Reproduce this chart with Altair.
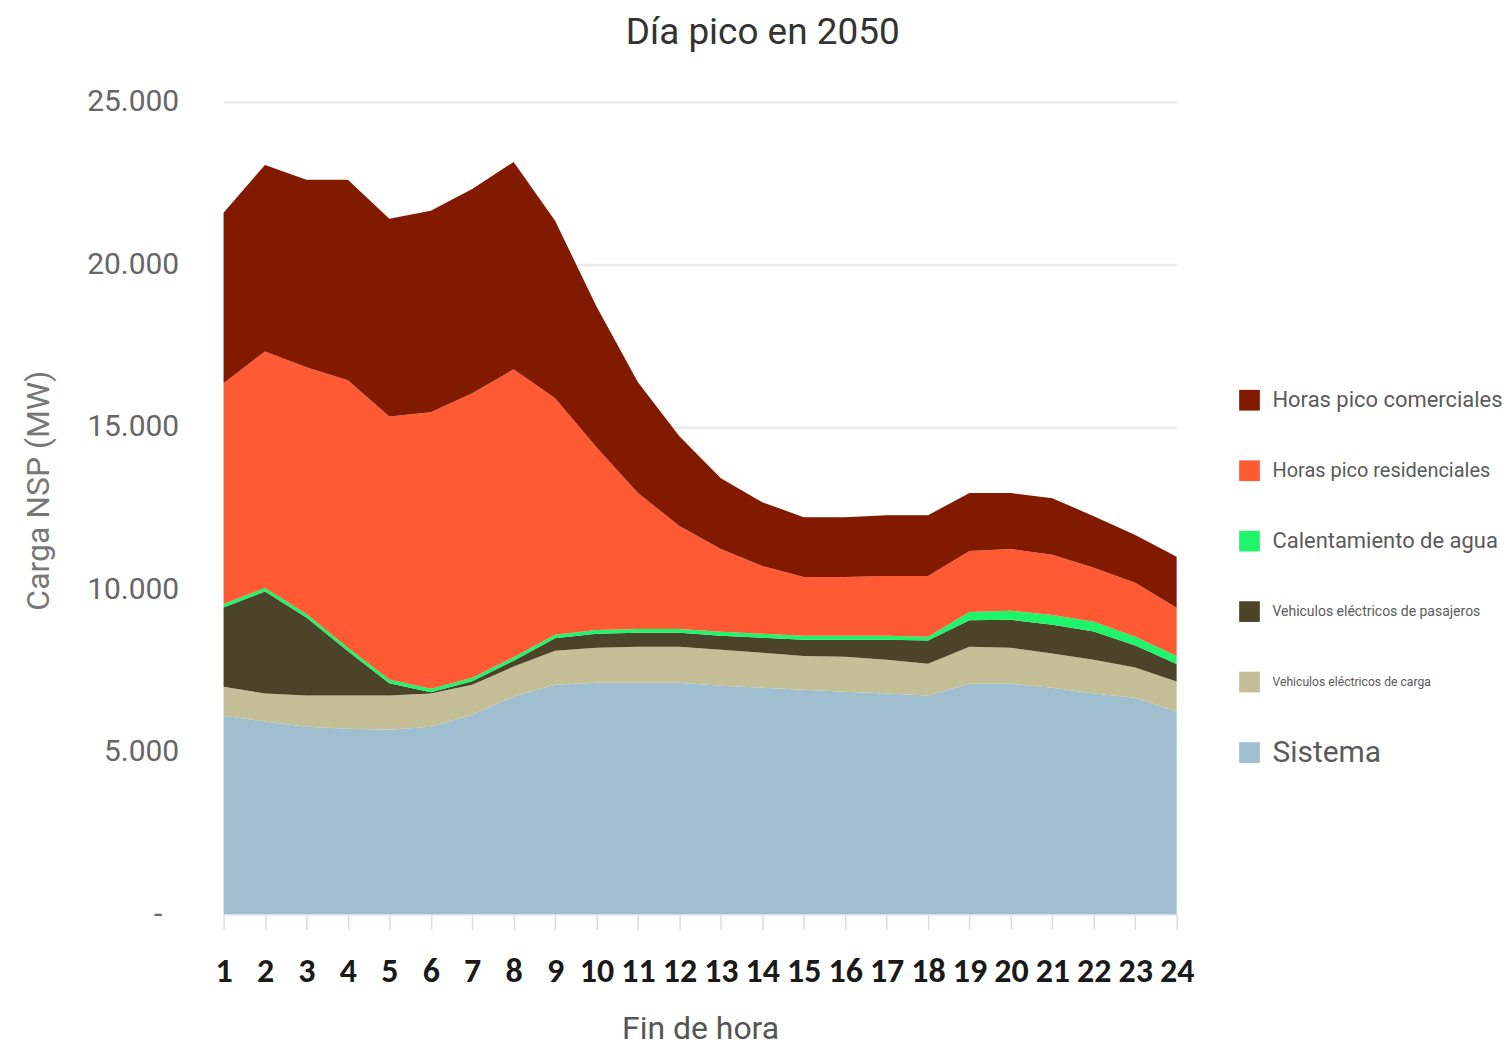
import altair as alt
import pandas as pd

horas = list(range(1, 25))

series = [
    "Sistema",
    "Vehiculos eléctricos de carga",
    "Vehiculos eléctricos de pasajeros",
    "Calentamiento de agua",
    "Horas pico residenciales",
    "Horas pico comerciales",
]

sistema = [6110, 5930, 5770, 5710, 5680, 5770, 6140, 6700, 7060, 7120, 7120, 7120,
           7030, 6970, 6910, 6850, 6790, 6730, 7090, 7090, 6970, 6790, 6660, 6230]
ev_carga = [890, 860, 960, 1020, 1050, 1020, 920, 920, 1050, 1080, 1110, 1110,
            1110, 1080, 1040, 1070, 1040, 980, 1140, 1110, 1050, 1040, 930, 930]
ev_pasajeros = [2440, 3140, 2400, 1360, 380, 40, 110, 180, 380, 430, 430, 430,
                430, 460, 500, 530, 620, 710, 820, 860, 890, 870, 680, 540]
agua = [110, 110, 110, 110, 110, 110, 110, 110, 110, 120, 120, 120,
        120, 120, 120, 120, 120, 120, 250, 280, 300, 300, 270, 250]
residencial = [6790, 7280, 7590, 8230, 8100, 8510, 8750, 8860, 7280, 5620, 4180, 3170,
               2550, 2090, 1810, 1810, 1840, 1870, 1880, 1900, 1850, 1660, 1660, 1480]
comercial = [5250, 5740, 5770, 6170, 6080, 6200, 6290, 6380, 5460, 4330, 3410, 2760,
             2180, 1960, 1840, 1840, 1870, 1870, 1780, 1720, 1740, 1590, 1470, 1570]

colores = ["#9fbfd0", "#c5bf98", "#4b4429", "#1ff56a", "#fe5b35", "#821a00"]

y_ticks = [0, 5000, 10000, 15000, 20000, 25000]

# legend styling (top to bottom)
legend_order = list(reversed(series))
legend_font_sizes = [22, 20, 22, 14, 12.2, 30]

valores = [sistema, ev_carga, ev_pasajeros, agua, residencial, comercial]
rows = []
for i, (name, vals) in enumerate(zip(series, valores)):
    for h, v in zip(horas, vals):
        rows.append({"hora": h, "serie": name, "carga": v, "orden": i})
df = pd.DataFrame(rows)

color_scale = alt.Scale(domain=series, range=colores)

area = alt.Chart(df).mark_area(interpolate="linear").encode(
    x=alt.X(
        "hora:Q",
        scale=alt.Scale(domain=[1, 24], nice=False, zero=False),
        axis=alt.Axis(
            values=horas, title="Fin de hora", format="d", grid=False,
            labelFontSize=34, labelFont="Carlito, DejaVu Sans Condensed, Liberation Sans, sans-serif",
            labelFontWeight="bold",
            labelColor="#1a1a1a", tickColor="#dddddd", tickSize=15, tickWidth=1.5,
            domain=False, labelPadding=25, labelOverlap=False, labelFlush=False,
            titleFontSize=32, titleFont="Roboto", titleColor="#555555",
            titleFontWeight="normal", titlePadding=26,
        ),
    ),
    y=alt.Y(
        "carga:Q", stack="zero",
        scale=alt.Scale(domain=[0, 25000], nice=False),
        axis=alt.Axis(
            values=y_ticks, title="Carga NSP (MW)",
            labelExpr="datum.value == 0 ? '-' : replace(format(datum.value, ','), ',', '.')",
            domain=False, ticks=False,
            labelPadding={"condition": {"test": "datum.value == 0", "value": 62}, "value": 45},
            labelFontSize=30, labelColor="#666666", labelFont="Roboto",
            gridColor="#ebebeb", gridWidth=2.5,
            titleFontSize=32, titleFont="Roboto", titleColor="#777777",
            titleFontWeight="normal", titlePadding=31, titleY=389,
        ),
    ),
    color=alt.Color("serie:N", scale=color_scale, legend=None),
    order=alt.Order("orden:Q", sort="ascending"),
).properties(width=955, height=814)

ley = pd.DataFrame({
    "serie": legend_order,
    "fila": list(range(len(legend_order))),
    "fs": legend_font_sizes,
})

ley_y = alt.Y("fila:Q", scale=alt.Scale(domain=[-4.235, 7.295], reverse=True, nice=False, zero=False), axis=None)

squares = alt.Chart(ley).mark_square(size=430, opacity=1).encode(
    x=alt.value(10),
    y=ley_y,
    color=alt.Color("serie:N", scale=color_scale, legend=None),
)
labels = alt.Chart(ley).mark_text(align="left", baseline="middle", font="Roboto", color="#5a5a5a").encode(
    x=alt.value(33),
    y=ley_y,
    text="serie:N",
    size=alt.Size("fs:Q", scale=None, legend=None),
)
legend_panel = alt.layer(squares, labels).properties(width=262, height=814)

chart = alt.hconcat(area, legend_panel, spacing=44).properties(
    title=alt.TitleParams(
        "Día pico en 2050", fontSize=37, font="Roboto", color="#333333",
        fontWeight="normal", anchor="middle", offset=35,
    ),
    padding={"left": 14, "top": 5, "right": 0, "bottom": 0},
).configure(background="white").configure_view(stroke=None)

chart.save("out.html", embed_options={"renderer": "svg", "actions": False})
